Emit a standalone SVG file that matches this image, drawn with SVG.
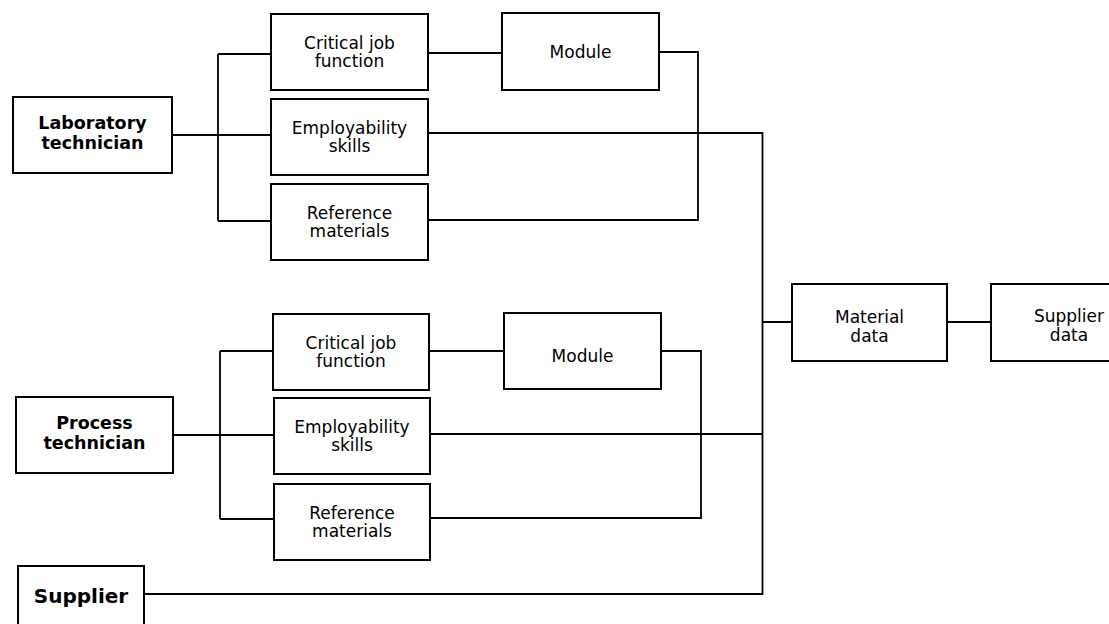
<svg xmlns="http://www.w3.org/2000/svg" width="1109" height="624" viewBox="0 0 1109 624">
<style>
.box{fill:#fff;stroke:#000;stroke-width:2}
.ln{fill:none;stroke:#000;stroke-width:1.8}
.t{font-family:"DejaVu Sans",sans-serif;font-size:17px;text-anchor:middle;fill:#000}
.b{font-family:"DejaVu Sans",sans-serif;font-size:17.5px;font-weight:bold;text-anchor:middle;fill:#000}
</style>
<rect width="1109" height="624" fill="#fff"/>
<g id="connectors">
<path class="ln" d="M172,135H271M218,54V221M218,54H271M218,221H271"/>
<path class="ln" d="M428,53H502"/>
<path class="ln" d="M659,52H698V220H428"/>
<path class="ln" d="M428,133H762.5V594H144"/>
<path class="ln" d="M762.5,322H792M947,322H991"/>
<path class="ln" d="M173,435H274M220,351V519M220,351H273M220,519H274"/>
<path class="ln" d="M429,351H504"/>
<path class="ln" d="M661,351H701V518H430"/>
<path class="ln" d="M430,434H762.5"/>
</g>
<g id="lab-tech"><rect class="box" x="13" y="97" width="159" height="76"/><text class="b" x="92.5" y="129">Laboratory</text><text class="b" x="92.5" y="149">technician</text></g>
<g id="cjf1"><rect class="box" x="271" y="14" width="157" height="76"/><text class="t" x="349.5" y="49">Critical job</text><text class="t" x="349.5" y="67">function</text></g>
<g id="emp1"><rect class="box" x="271" y="99" width="157" height="76"/><text class="t" x="349.5" y="134">Employability</text><text class="t" x="349.5" y="152">skills</text></g>
<g id="ref1"><rect class="box" x="271" y="184" width="157" height="76"/><text class="t" x="349.5" y="219">Reference</text><text class="t" x="349.5" y="237">materials</text></g>
<g id="mod1"><rect class="box" x="502" y="13" width="157" height="77"/><text class="t" x="580.5" y="58">Module</text></g>
<g id="proc-tech"><rect class="box" x="16" y="397" width="157" height="76"/><text class="b" x="94.5" y="429">Process</text><text class="b" x="94.5" y="449">technician</text></g>
<g id="cjf2"><rect class="box" x="273" y="314" width="156" height="76"/><text class="t" x="351" y="349">Critical job</text><text class="t" x="351" y="367">function</text></g>
<g id="emp2"><rect class="box" x="274" y="398" width="156" height="76"/><text class="t" x="352" y="433">Employability</text><text class="t" x="352" y="451">skills</text></g>
<g id="ref2"><rect class="box" x="274" y="484" width="156" height="76"/><text class="t" x="352" y="519">Reference</text><text class="t" x="352" y="537">materials</text></g>
<g id="mod2"><rect class="box" x="504" y="313" width="157" height="76"/><text class="t" x="582.5" y="362">Module</text></g>
<g id="supplier"><rect class="box" x="18" y="566" width="126" height="80"/><text class="b" x="81" y="603" style="font-size:20px">Supplier</text></g>
<g id="material-data"><rect class="box" x="792" y="284" width="155" height="77"/><text class="t" x="869.5" y="323">Material</text><text class="t" x="869.5" y="342">data</text></g>
<g id="supplier-data"><rect class="box" x="991" y="284" width="130" height="77"/><text class="t" x="1069" y="322">Supplier</text><text class="t" x="1069" y="341">data</text></g>
</svg>
